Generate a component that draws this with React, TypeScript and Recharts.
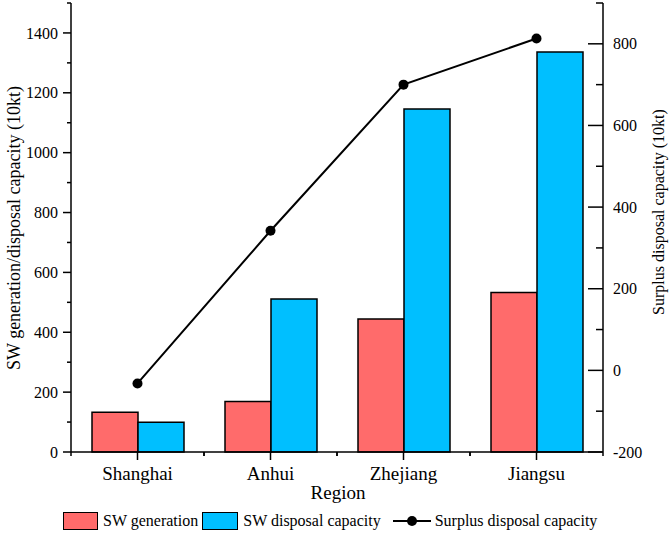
import {
  ComposedChart,
  Bar,
  Line,
  XAxis,
  YAxis,
} from 'recharts';

const regions = ['Shanghai', 'Anhui', 'Zhejiang', 'Jiangsu'];
const swGeneration = [133, 169, 444, 533];
const swDisposal = [99, 511, 1146, 1336];
const surplusCapacity = [-32, 342, 700, 813];

const leftTicks = [0, 100, 200, 300, 400, 500, 600, 700, 800, 900, 1000, 1100, 1200, 1300, 1400, 1500];
const rightTicks = [-200, -100, 0, 100, 200, 300, 400, 500, 600, 700, 800, 900];

const seriesNames = ['SW generation', 'SW disposal capacity', 'Surplus disposal capacity'];

const RED = '#FF6B6B';
const BLUE = '#00BFFF';
const FONT = '"Liberation Serif", "Times New Roman", serif';

const data = regions.map((region, i) => ({
  region,
  generation: swGeneration[i],
  disposal: swDisposal[i],
  surplus: surplusCapacity[i],
}));

const BAND = 133;

function LeftTick(props: any) {
  const { x, y, payload } = props;
  const major = payload.value % 200 === 0;
  return (
    <g>
      <line x1={x - (major ? 8 : 4)} x2={x} y1={y} y2={y} stroke="#000" strokeWidth={1.5} />
      {major && (
        <text x={x - 13} y={y} dy="0.35em" textAnchor="end" fontSize={16} fontFamily={FONT} fill="#000">
          {payload.value}
        </text>
      )}
    </g>
  );
}

function RightTick(props: any) {
  const { x, y, payload } = props;
  const major = payload.value % 200 === 0;
  return (
    <g>
      <line x1={x - (major ? 15 : 7)} x2={x} y1={y} y2={y} stroke="#000" strokeWidth={1.5} />
      {major && (
        <text x={x + 10} y={y} dy="0.35em" textAnchor="start" fontSize={16} fontFamily={FONT} fill="#000">
          {payload.value}
        </text>
      )}
    </g>
  );
}

function BottomTick(props: any) {
  const { x, y, payload } = props;
  return (
    <g>
      <line x1={x} x2={x} y1={y} y2={y + 8} stroke="#000" strokeWidth={1.5} />
      <line x1={x - BAND / 2} x2={x - BAND / 2} y1={y} y2={y + 4} stroke="#000" strokeWidth={1.5} />
      <line x1={x + BAND / 2} x2={x + BAND / 2} y1={y} y2={y + 4} stroke="#000" strokeWidth={1.5} />
      <text x={x} y={y + 28} textAnchor="middle" fontSize={19} fontFamily={FONT} fill="#000">
        {payload.value}
      </text>
    </g>
  );
}

const axisLine = { stroke: '#000', strokeWidth: 1.5 };

export default function App() {
  return (
    <div style={{ position: 'relative', width: 671, height: 534, fontFamily: FONT }}>
      <style>{'body{margin:0}'}</style>
      <ComposedChart
        width={671}
        height={534}
        data={data}
        margin={{ top: 3, right: 0, left: 0, bottom: 52 }}
        barGap={0}
      >
        <XAxis
          dataKey="region"
          height={30}
          tickSize={0}
          tickMargin={0}
          tick={(p: any) => <BottomTick {...p} />}
          axisLine={axisLine}
          tickLine={false}
          interval={0}
        />
        <YAxis
          yAxisId="left"
          orientation="left"
          width={71}
          domain={[0, 1500]}
          ticks={leftTicks}
          interval={0}
          tickSize={0}
          tickMargin={0}
          tick={(p: any) => <LeftTick {...p} />}
          tickLine={false}
          axisLine={axisLine}
        />
        <YAxis
          yAxisId="right"
          orientation="right"
          width={68}
          domain={[-200, 900]}
          ticks={rightTicks}
          interval={0}
          tickSize={0}
          tickMargin={0}
          tick={(p: any) => <RightTick {...p} />}
          tickLine={false}
          axisLine={axisLine}
        />
        <Bar
          yAxisId="left"
          dataKey="generation"
          name={seriesNames[0]}
          fill={RED}
          stroke="#000"
          strokeWidth={1.5}
          barSize={46}
          isAnimationActive={false}
        />
        <Bar
          yAxisId="left"
          dataKey="disposal"
          name={seriesNames[1]}
          fill={BLUE}
          stroke="#000"
          strokeWidth={1.5}
          barSize={46}
          isAnimationActive={false}
        />
        <Line
          yAxisId="right"
          dataKey="surplus"
          name={seriesNames[2]}
          stroke="#000"
          strokeWidth={2}
          dot={{ r: 5, fill: '#000', stroke: '#000', strokeWidth: 0 }}
          isAnimationActive={false}
        />
      </ComposedChart>

      <svg
        width={671}
        height={534}
        style={{ position: 'absolute', left: 0, top: 0, pointerEvents: 'none' }}
      >
        <text
          transform="translate(14,228) rotate(-90)"
          textAnchor="middle"
          dy="0.35em"
          fontSize={18}
          fontFamily={FONT}
          fill="#000"
        >
          SW generation/disposal capacity (10kt)
        </text>
        <text
          transform="translate(658,212) rotate(-90)"
          textAnchor="middle"
          dy="0.35em"
          fontSize={16}
          fontFamily={FONT}
          fill="#000"
        >
          Surplus disposal capacity (10kt)
        </text>
        <text x={338} y={499} textAnchor="middle" fontSize={19} fontFamily={FONT} fill="#000">
          Region
        </text>
      </svg>

      <div
        style={{
          position: 'absolute',
          left: 63,
          top: 512,
          display: 'flex',
          alignItems: 'center',
          fontSize: 16,
          lineHeight: '18px',
          whiteSpace: 'nowrap',
        }}
      >
        <span style={{ width: 35, height: 18, background: RED, border: '1.5px solid #000', boxSizing: 'border-box' }} />
        <span style={{ marginLeft: 5, marginRight: 4 }}>{seriesNames[0]}</span>
        <span style={{ width: 36, height: 18, background: BLUE, border: '1.5px solid #000', boxSizing: 'border-box' }} />
        <span style={{ marginLeft: 5, marginRight: 12 }}>{seriesNames[1]}</span>
        <svg width={38} height={18}>
          <line x1={0} x2={38} y1={9} y2={9} stroke="#000" strokeWidth={2} />
          <circle cx={19} cy={9} r={5} fill="#000" />
        </svg>
        <span style={{ marginLeft: 4 }}>{seriesNames[2]}</span>
      </div>
    </div>
  );
}
